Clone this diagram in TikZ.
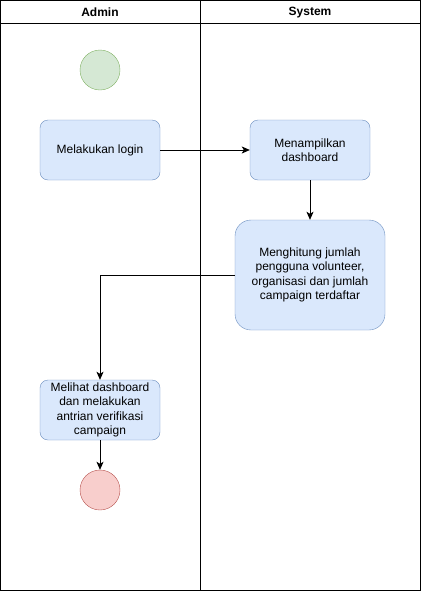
\documentclass[tikz,border=0pt]{standalone}
\usepackage{fontspec}
\setmainfont{Liberation Sans}
\usepackage{tikz}
\usetikzlibrary{arrows.meta, calc}

\definecolor{actFill}{HTML}{DAE8FC}
\definecolor{actLine}{HTML}{6C8EBF}
\definecolor{startFill}{HTML}{D5E8D4}
\definecolor{startLine}{HTML}{82B366}
\definecolor{endFill}{HTML}{F8CECC}
\definecolor{endLine}{HTML}{B85450}

\tikzset{
  lane/.style={draw=black, line width=1pt},
  activity/.style={draw=actLine, fill=actFill, rounded corners=8pt, align=center,
    inner sep=0pt, font=\fontsize{12}{14.4}\selectfont},
  startnode/.style={circle, draw=startLine, fill=startFill, minimum size=40pt, inner sep=0pt},
  endnode/.style={circle, draw=endLine, fill=endFill, minimum size=40pt, inner sep=0pt},
  flow/.style={draw=black, line width=0.8pt, -{Stealth[length=8pt, width=7pt, inset=2pt]}}
}

\begin{document}
\begin{tikzpicture}[x=1pt, y=-1pt]

 %%Paramaters
%% lane sizes, can be modified
\def\laneW{200}
\def\laneR{420}
\def\laneH{590}
\def\headH{23}
\useasboundingbox (0,0) rectangle (421,592);

 %% ***Swimlanes***
\draw[lane] (0.5,0.5) rectangle (\laneR,\laneH);
\draw[lane] (0.5,\headH) -- (\laneR,\headH);
\draw[lane] (\laneW,0.5) -- (\laneW,\laneH);
\node[font=\fontsize{12}{14.4}\selectfont\bfseries] (admin) at (100, 12.5) {Admin};
\node[font=\fontsize{12}{14.4}\selectfont\bfseries] (system) at (310, 12.5) {System};

 %% ***Admin lane***
\node[startnode] (start) at (100, 70) {};
\node[activity, minimum width=120pt, minimum height=60pt] (login) at (100, 150) {Melakukan login};
\node[activity, minimum width=120pt, minimum height=60pt] (lihat) at (100, 410)
     {Melihat dashboard\\dan melakukan\\antrian verifikasi\\campaign};
\node[endnode] (stop) at (100, 490) {};

 %% ***System lane***
\node[activity, minimum width=120pt, minimum height=60pt] (tampil) at (310, 150) {Menampilkan\\dashboard};
\node[activity, minimum width=150pt, minimum height=110pt, rounded corners=16pt] (hitung) at (310, 275)
     {Menghitung jumlah\\pengguna volunteer,\\organisasi dan jumlah\\campaign terdaftar};

 %% ***Flows***
\draw[flow] (login.east) -- (tampil.west);
\draw[flow] (tampil.south) -- (hitung.north);
\draw[flow] (hitung.west) -| (lihat.north);
\draw[flow] (lihat.south) -- (stop.north);

 \end{tikzpicture}
\end{document}
